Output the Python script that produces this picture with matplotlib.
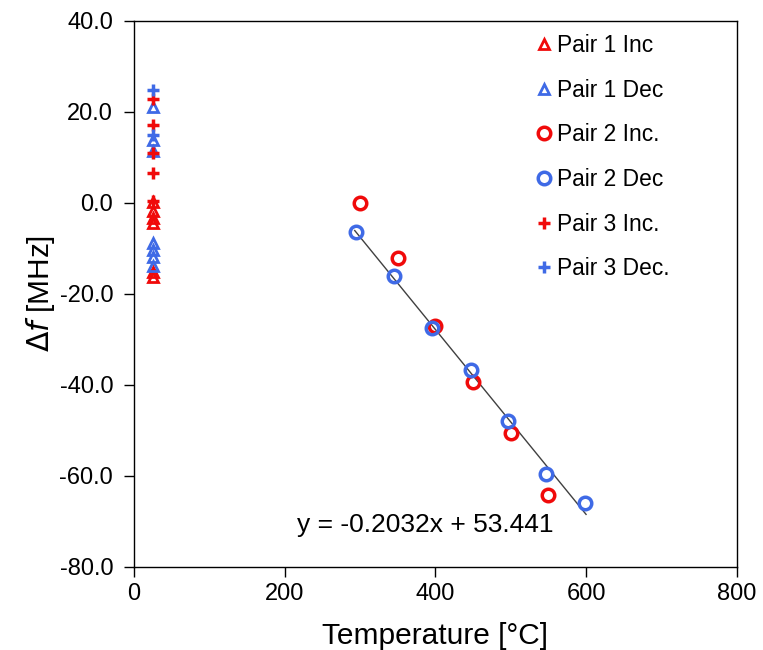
import matplotlib.pyplot as plt
import numpy as np

plt.rcParams['font.family'] = ['Liberation Sans', 'DejaVu Sans']

# data
p1_inc_x = [25, 25, 25, 25, 25, 25]
p1_inc_y = [0.2, -1.8, -3.4, -4.4, -15.3, -16.4]
p1_dec_x = [25, 25, 25, 25, 25, 25, 25]
p1_dec_y = [21.0, 13.8, 11.3, -8.9, -10.4, -11.9, -13.8]
p2_inc_x = [300, 350, 400, 450, 500, 550]
p2_inc_y = [0.0, -12.2, -27.1, -39.4, -50.6, -64.3]
p2_dec_x = [295, 345, 395, 447, 497, 547, 598]
p2_dec_y = [-6.4, -16.1, -27.5, -36.8, -48.0, -59.6, -66.0]
p3_inc_x = [25, 25, 25, 25, 25]
p3_inc_y = [22.9, 17.0, 11.0, 6.5, 0.5]
p3_dec_x = [25, 25]
p3_dec_y = [24.8, 14.9]

slope = -0.2032
intercept = 53.441
fit_x = [293, 600]

red = '#f00a0a'
blue = '#3f6ae6'

fig = plt.figure(figsize=(7.63, 6.5), dpi=100)
ax = fig.add_axes([0.1756, 0.128, 0.79, 0.84])

fx = np.array(fit_x)
ax.plot(fx, slope * fx + intercept, color='#404040', lw=1.0, zorder=1)

ax.plot(p1_inc_x, p1_inc_y, '^', ms=7, mfc='none', mec=red, mew=2, ls='none', label='Pair 1 Inc')
ax.plot(p1_dec_x, p1_dec_y, '^', ms=7, mfc='none', mec=blue, mew=2, ls='none', label='Pair 1 Dec')
ax.plot(p2_inc_x, p2_inc_y, 'o', ms=9, mfc='none', mec=red, mew=2.5, ls='none', label='Pair 2 Inc.')
ax.plot(p2_dec_x, p2_dec_y, 'o', ms=9, mfc='none', mec=blue, mew=2.5, ls='none', label='Pair 2 Dec')
ax.plot(p3_inc_x, p3_inc_y, '+', ms=9, mec=red, mew=2.5, ls='none', label='Pair 3 Inc.')
ax.plot(p3_dec_x, p3_dec_y, '+', ms=9, mec=blue, mew=2.5, ls='none', label='Pair 3 Dec.')

ax.text(216, -70.8, 'y = -0.2032x + 53.441', fontsize=19, va='center', ha='left')

ax.set_xlim(0, 800)
ax.set_ylim(-80, 40)
ax.set_xticks([0, 200, 400, 600, 800])
ax.set_yticks(np.arange(-80, 41, 20))
ax.set_yticklabels(['%.1f' % v for v in np.arange(-80, 41, 20)])
ax.tick_params(labelsize=17, direction='out', length=7, width=1)
ax.tick_params(axis='y', pad=8)
ax.tick_params(axis='x', pad=5)
for s in ax.spines.values():
    s.set_linewidth(1.0)

ax.set_xlabel('Temperature [°C]', fontsize=21.5, labelpad=12)
ax.set_ylabel(r'$\Delta\mathit{f}$ [MHz]', fontsize=21.5, labelpad=2)

ax.legend(loc='upper left', bbox_to_anchor=(0.685, 0.972), bbox_transform=fig.transFigure,
          frameon=False, fontsize=16.4, handlelength=0.5, handletextpad=0.3,
          labelspacing=0.95, numpoints=1, markerscale=1.0, borderpad=0.2)

fig.savefig('out.png', dpi=100)
